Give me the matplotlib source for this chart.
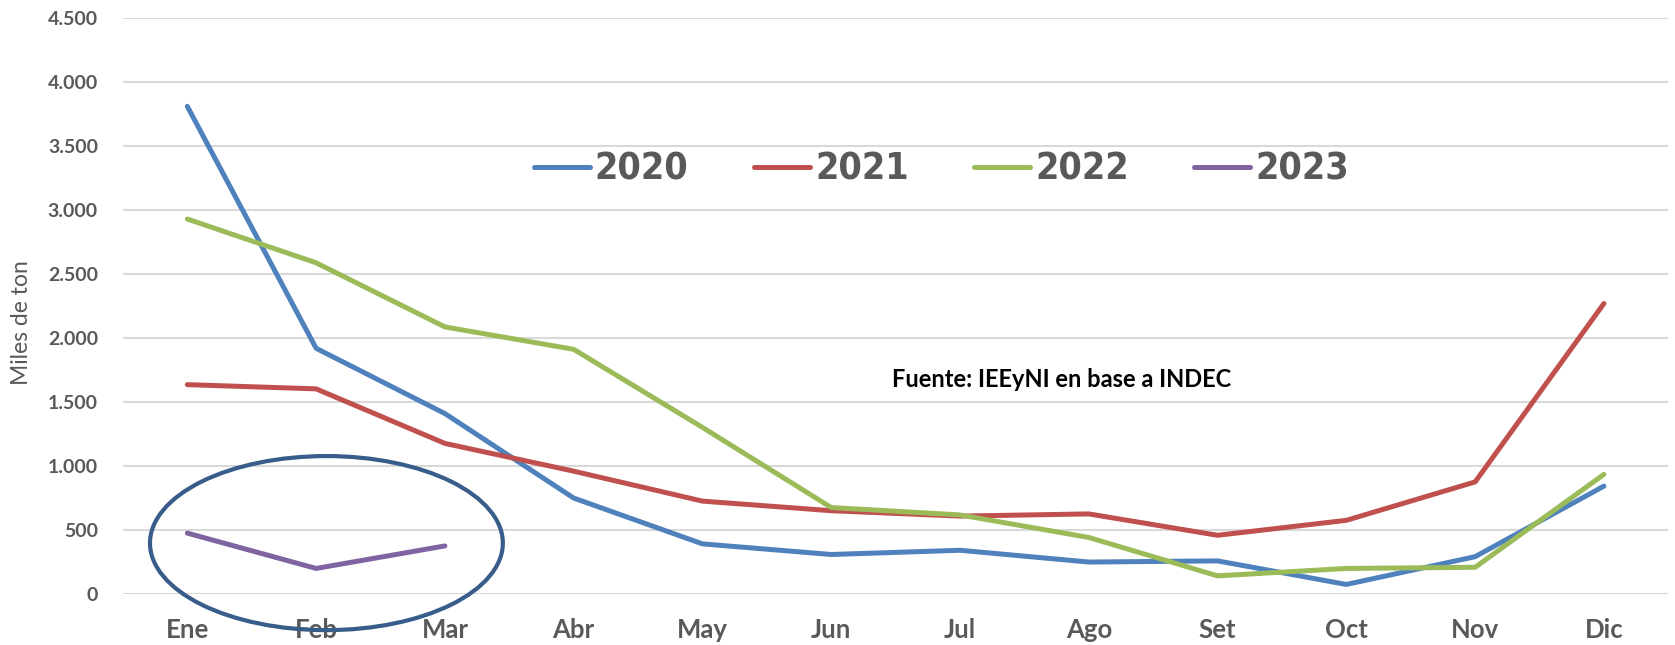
import matplotlib.pyplot as plt
from matplotlib.patches import Ellipse
from matplotlib import font_manager

# monthly values, thousands of tons
meses = ['Ene', 'Feb', 'Mar', 'Abr', 'May', 'Jun', 'Jul', 'Ago', 'Set', 'Oct', 'Nov', 'Dic']
v2020 = [3810, 1920, 1410, 750, 392, 309, 342, 250, 259, 75, 292, 843]
v2021 = [1636, 1603, 1177, 960, 726, 651, 609, 626, 459, 576, 876, 2270]
v2022 = [2930, 2588, 2087, 1912, 1302, 676, 618, 442, 142, 200, 209, 935]
v2023 = [476, 200, 376]
yticks = [0, 500, 1000, 1500, 2000, 2500, 3000, 3500, 4000, 4500]

gris = '#595959'
fig = plt.figure(figsize=(16.75, 6.45), dpi=100)
ax = fig.add_axes([0.0734, 0.079, 0.9226, 0.893])

x = list(range(len(meses)))
series = [('2020', v2020, '#4F81BD'), ('2021', v2021, '#C0504D'),
          ('2022', v2022, '#9BBB59'), ('2023', v2023, '#8064A2')]
for name, vals, col in series:
    ax.plot(x[:len(vals)], vals, color=col, lw=3.6, label=name,
            solid_capstyle='round', solid_joinstyle='round', zorder=3)

ax.set_xlim(-0.5, 11.5)
ax.set_ylim(0, 4500)
ax.set_xticks(x)
ax.set_xticklabels(meses)
ax.set_yticks(yticks)
ax.set_yticklabels([f'{v:,}'.replace(',', '.') for v in yticks])
ax.grid(axis='y', color='#D9D9D9', lw=1.5, zorder=0)
ax.set_axisbelow(True)
for s in ax.spines.values():
    s.set_visible(False)
ax.tick_params(length=0)
ax.tick_params(axis='x', pad=17)
ax.tick_params(axis='y', pad=18)
for lab in ax.get_xticklabels():
    lab.set(family='Lato', fontweight='bold', fontsize=18.5, color=gris)
for lab in ax.get_yticklabels():
    lab.set(family='Lato', fontweight='bold', fontsize=14, color=gris)

fig.text(0.013, 0.5, 'Miles de ton', rotation=90, va='center', ha='center',
         family='Lato', fontsize=16.5, color=gris)

ax.text(5.47, 1680, 'Fuente: IEEyNI en base a INDEC', family='Lato',
        fontweight='bold', fontsize=17, color='black', va='center', ha='left')

# highlight the 2023 months
ax.add_patch(Ellipse((1.08, 398), 2.74, 1360, fill=False, ec='#385D8A',
                     lw=3, clip_on=False, zorder=4))

# narrow face for the legend if one is around
nombres = {f.name for f in font_manager.fontManager.ttflist}
if 'Liberation Sans Narrow' in nombres:
    leg_font = {'family': 'Liberation Sans Narrow', 'weight': 'bold', 'size': 31}
elif 'DejaVu Sans Condensed' in nombres:
    leg_font = {'family': 'DejaVu Sans Condensed', 'weight': 'bold', 'size': 27}
else:
    leg_font = {'family': 'DejaVu Sans', 'stretch': 'condensed', 'weight': 'bold', 'size': 27}

leg = fig.legend(loc='center', bbox_to_anchor=(0.562, 0.737), ncol=4, frameon=False,
                 handlelength=1.5, handletextpad=0.12, columnspacing=1.75,
                 prop=leg_font)
for t in leg.get_texts():
    t.set_color(gris)

fig.savefig('out.png', dpi=100)
